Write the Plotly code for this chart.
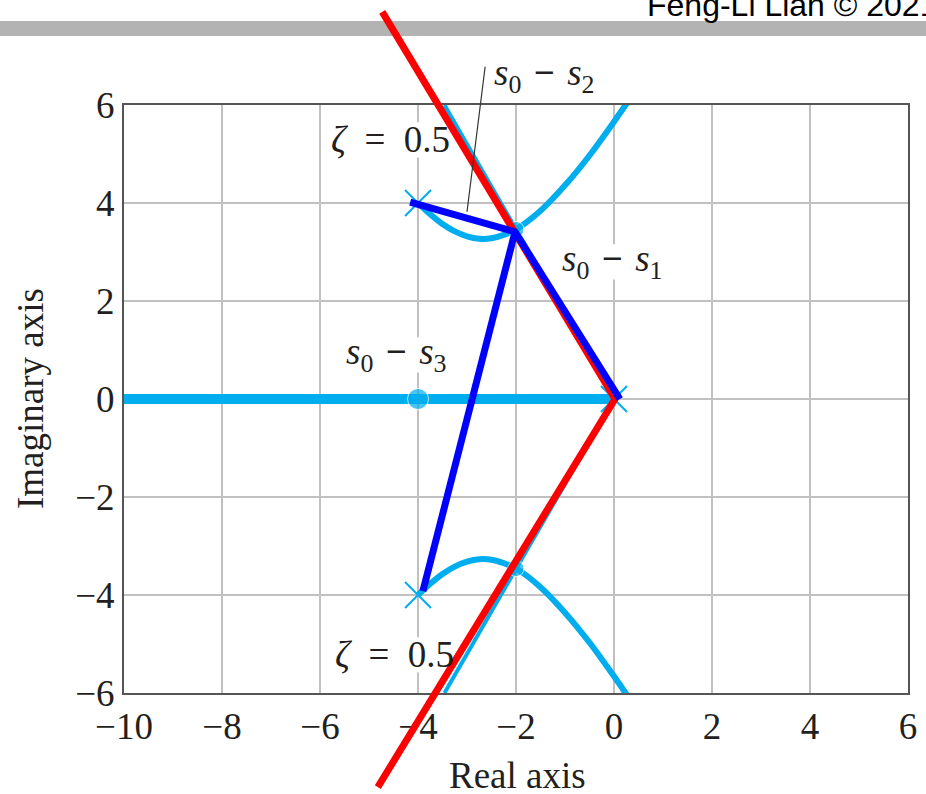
import plotly.graph_objects as go

# ---- data -------------------------------------------------------------
# open-loop poles
pole_re = [0.0, -4.0, -4.0]
pole_im = [0.0, 4.0, -4.0]

# closed-loop roots picked on the zeta = 0.5 line
root_re = [-4.0, -2.0, -2.0]
root_im = [0.0, 3.46, -3.46]

# complex branches of the locus (upper and lower)
upper_re = [-4.0, -3.75, -3.5, -3.25, -3.0, -2.75, -2.5, -2.25, -2.0, -1.5, -1.0, -0.5, 0.0, 0.25, 0.5]
upper_im = [4.0, 3.77, 3.57, 3.42, 3.32, 3.27, 3.28, 3.35, 3.46, 3.84, 4.36, 4.97, 5.66, 6.02, 6.38]
lower_re = [-4.0, -3.75, -3.5, -3.25, -3.0, -2.75, -2.5, -2.25, -2.0, -1.5, -1.0, -0.5, 0.0, 0.25, 0.5]
lower_im = [-4.0, -3.77, -3.57, -3.42, -3.32, -3.27, -3.28, -3.35, -3.46, -3.84, -4.36, -4.97, -5.66, -6.02, -6.38]

# real-axis branch
real_re = [-10.0, 0.0]
real_im = [0.0, 0.0]

# zeta = 0.5 rays of the s-plane grid
zeta_up_re = [0.0, -3.46]
zeta_up_im = [0.0, 6.0]
zeta_dn_re = [0.0, -3.46]
zeta_dn_im = [0.0, -6.0]

# hand-drawn red zeta lines
red_re = [-4.73, 0.02, -4.82]
red_im = [7.90, 0.0, -7.92]

# vectors s0 - s1, s0 - s2, s0 - s3
vec_a_re = [-4.16, -2.02, 0.12]
vec_a_im = [4.02, 3.41, 0.0]
vec_b_re = [-2.02, -3.90]
vec_b_im = [3.41, -3.92]

# leader line for the s0 - s2 label
lead_re = [-2.63, -3.00]
lead_im = [6.78, 3.82]

x_ticks = [-10, -8, -6, -4, -2, 0, 2, 4, 6]
y_ticks = [-6, -4, -2, 0, 2, 4, 6]

# ---- layout geometry ----------------------------------------------------
W, H = 926, 794
PL, PR, PT, PB = 124, 908, 105, 693          # plot-area edges in pixels
XR = (-10, 6)
YR = (-6, 6)
sx = (PR - PL) / (XR[1] - XR[0])
sy = (PB - PT) / (YR[1] - YR[0])
# full-figure overlay axes with the same scale, so lines may run past the frame
x2_range = [XR[0] - PL / sx, XR[1] + (W - PR) / sx]
y2_range = [YR[0] - (H - PB) / sy, YR[1] + PT / sy]

CYAN = "#00AEEF"
SERIF = "Liberation Serif"
INK = "#231f20"
FS = 37

fig = go.Figure()

# s-plane grid rays
for xr, yr in [(zeta_up_re, zeta_up_im), (zeta_dn_re, zeta_dn_im)]:
    fig.add_trace(go.Scatter(x=xr, y=yr, mode="lines",
                             line=dict(color=CYAN, width=4), xaxis="x", yaxis="y"))

# locus branches
fig.add_trace(go.Scatter(x=real_re, y=real_im, mode="lines",
                         line=dict(color=CYAN, width=10), xaxis="x", yaxis="y"))
for xr, yr in [(upper_re, upper_im), (lower_re, lower_im)]:
    fig.add_trace(go.Scatter(x=xr, y=yr, mode="lines",
                             line=dict(color=CYAN, width=6, shape="spline"),
                             xaxis="x", yaxis="y"))

# poles
fig.add_trace(go.Scatter(x=pole_re, y=pole_im, mode="markers",
                         marker=dict(symbol="x-thin", size=26,
                                     line=dict(color=CYAN, width=2)),
                         xaxis="x", yaxis="y"))
# selected roots
fig.add_trace(go.Scatter(x=root_re, y=root_im, mode="markers",
                         marker=dict(symbol="circle", size=[21, 16, 16], color=CYAN),
                         xaxis="x", yaxis="y"))

# overlay: red zeta lines, blue vectors, leader line
fig.add_trace(go.Scatter(x=red_re, y=red_im, mode="lines",
                         line=dict(color="#ff0000", width=7),
                         xaxis="x2", yaxis="y2"))
fig.add_trace(go.Scatter(x=vec_a_re, y=vec_a_im, mode="lines",
                         line=dict(color="#0000ff", width=7),
                         xaxis="x2", yaxis="y2"))
fig.add_trace(go.Scatter(x=vec_b_re, y=vec_b_im, mode="lines",
                         line=dict(color="#0000ff", width=7),
                         xaxis="x2", yaxis="y2"))
fig.add_trace(go.Scatter(x=lead_re, y=lead_im, mode="lines",
                         line=dict(color="#333333", width=1.2),
                         xaxis="x2", yaxis="y2"))

axis_common = dict(
    showgrid=True, gridcolor="#c0c0c0", gridwidth=1.5,
    showline=True, mirror=True, linecolor="#555555", linewidth=2,
    zeroline=False, ticks="", automargin=False,
    tickfont=dict(family=SERIF, size=FS, color=INK),
)

fig.update_layout(
    width=W, height=H,
    margin=dict(l=0, r=0, t=0, b=0, pad=0, autoexpand=False),
    paper_bgcolor="white", plot_bgcolor="rgba(0,0,0,0)",
    showlegend=False,
    xaxis=dict(domain=[PL / W, PR / W], range=list(XR), tickvals=x_ticks,
               anchor="y", **axis_common),
    yaxis=dict(domain=[1 - PB / H, 1 - PT / H], range=list(YR), tickvals=y_ticks,
               anchor="x", **axis_common),
    xaxis2=dict(domain=[0, 1], range=x2_range, visible=False, anchor="y2",
                fixedrange=True, automargin=False),
    yaxis2=dict(domain=[0, 1], range=y2_range, visible=False, anchor="x2",
                fixedrange=True, automargin=False),
)

# header bar and credit line
fig.add_shape(type="rect", xref="paper", yref="paper",
              x0=0, x1=1, y0=1 - 36 / H, y1=1 - 21 / H,
              fillcolor="#b3b3b3", line=dict(width=0), layer="below")
fig.add_annotation(text="Feng-Li Lian © 2021", xref="paper", yref="paper",
                   x=645 / W, y=1 - 25 / H, xanchor="left", yanchor="bottom",
                   showarrow=False,
                   font=dict(family="Liberation Sans", size=32, color="#000000"))

# axis titles
fig.add_annotation(text="Real axis", xref="paper", yref="paper",
                   x=517 / W, y=1 - 775 / H, xanchor="center", yanchor="middle",
                   showarrow=False, font=dict(family=SERIF, size=FS, color=INK))
fig.add_annotation(text="Imaginary axis", xref="paper", yref="paper",
                   x=30 / W, y=1 - 399 / H, xanchor="center", yanchor="middle",
                   textangle=-90, showarrow=False,
                   font=dict(family=SERIF, size=FS, color=INK))

# in-plot labels: text, centre, axes, half-width of the white backing (data units)
gap = "\u2004"
sub = "<i>s</i><sub>0</sub>" + gap + "<b>−</b>" + gap + "<i>s</i><sub>{}</sub>"
labels = [
    ("<i>ζ</i>  =  0.5", -4.57, 5.29, "x", "y", 1.25),
    ("<i>ζ</i>  =  0.5", -4.47, -5.22, "x", "y", 1.25),
    (sub.format(2), -1.41, 6.61, "x2", "y2", 0),
    (sub.format(1), -0.04, 2.80, "x", "y", 1.1),
    (sub.format(3), -4.43, 0.90, "x", "y", 1.1),
]
for txt, lx, ly, xr, yr, half in labels:
    if half:
        # white backing that hides the grid behind the text but stays under the traces
        fig.add_shape(type="rect", xref=xr, yref=yr,
                      x0=lx - half, x1=lx + half, y0=ly - 0.36, y1=ly + 0.36,
                      fillcolor="white", line=dict(width=0), layer="between")
    fig.add_annotation(text=txt, x=lx, y=ly, xref=xr, yref=yr,
                       xanchor="center", yanchor="middle", showarrow=False,
                       font=dict(family=SERIF, size=FS, color=INK))

fig.write_html("out.html")
